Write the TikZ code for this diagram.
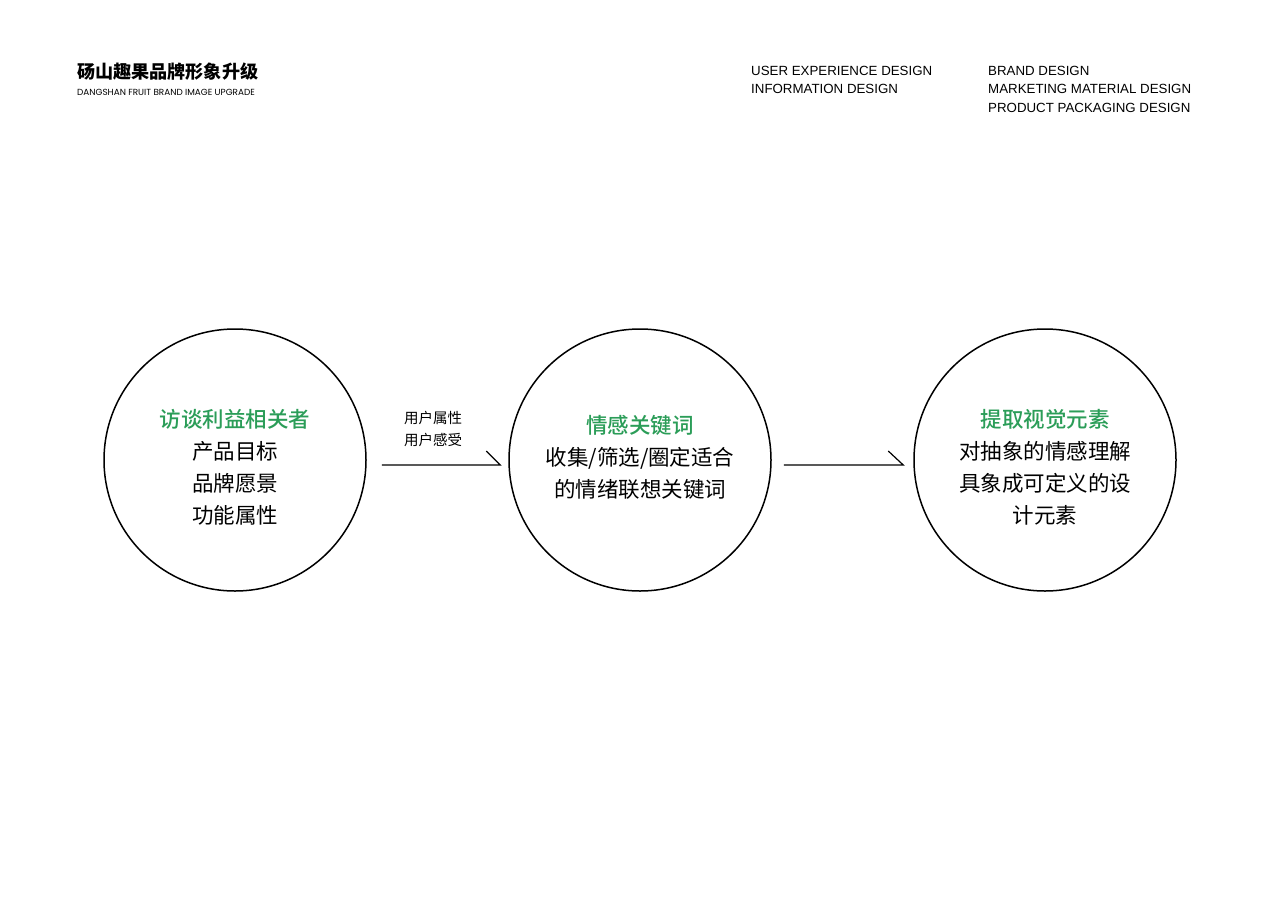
\documentclass[tikz,border=0pt]{standalone}
\usepackage{fontspec}
\setmainfont{Liberation Sans}
\newfontfamily\cjk{Noto Sans CJK SC}
\newfontfamily\cjkm{Noto Sans CJK SC Medium}
\newfontfamily\pop{Poppins}
\definecolor{leaf}{RGB}{43,157,88}
\begin{document}
\begin{tikzpicture}[x=1pt,y=-1pt,
  ring/.style={draw=black,line width=1.5pt,circle,minimum size=262pt,inner sep=0pt},
  body/.style={align=center,inner sep=0pt,font=\cjk\fontsize{21.5}{32}\selectfont,text=black},
  lbl/.style={align=center,inner sep=0pt,font=\cjk\fontsize{14.5}{22}\selectfont},
  hdr/.style={anchor=north west,align=left,inner sep=0pt,font=\fontsize{13.3}{18.5}\selectfont},
  flow/.style={line width=1.2pt}
]
\useasboundingbox[fill=white] (0,0) rectangle (1280,905);
% header
\node[anchor=west,inner sep=0pt,font=\cjk\bfseries\fontsize{18.1}{20}\selectfont] (title) at (77,72) {砀山趣果品牌形象升级};
\node[anchor=west,inner sep=0pt,font=\pop\fontsize{8.85}{10}\selectfont] (sub) at (77,92) {DANGSHAN FRUIT BRAND IMAGE UPGRADE};
\node[hdr] (h1) at (751,66) {USER EXPERIENCE DESIGN\\INFORMATION DESIGN};
\node[hdr] (h2) at (988,66) {BRAND DESIGN\\MARKETING MATERIAL DESIGN\\PRODUCT PACKAGING DESIGN};
% circles
\node[ring] (c1) at (235,460) {};
\node[ring] (c2) at (640,460) {};
\node[ring] (c3) at (1045,460) {};
% texts
\node[body] (t1) at (235,467) {{\color{leaf}\cjkm 访谈利益相关者}\\产品目标\\品牌愿景\\功能属性};
\node[body] (t2) at (640,457) {{\color{leaf}\cjkm 情感关键词}\\收集/筛选/圈定适合\\的情绪联想关键词};
\node[body] (t3) at (1045,467) {{\color{leaf}\cjkm 提取视觉元素}\\对抽象的情感理解\\具象成可定义的设\\计元素};
% arrows
\coordinate (a1s) at ([xshift=15pt]c1.east |- 0,465);
\coordinate (a1e) at ([xshift=-8pt]c2.west |- 0,465);
\coordinate (a2s) at ([xshift=12pt]c2.east |- 0,465);
\coordinate (a2e) at ([xshift=-10pt]c3.west |- 0,465);
\draw[flow] (a1s) -- (a1e) -- ++(-14,-14);
\draw[flow] (a2s) -- (a2e) -- ++(-15,-14);
\node[lbl] (l1) at (433,429) {用户属性\\用户感受};
\end{tikzpicture}
\end{document}
